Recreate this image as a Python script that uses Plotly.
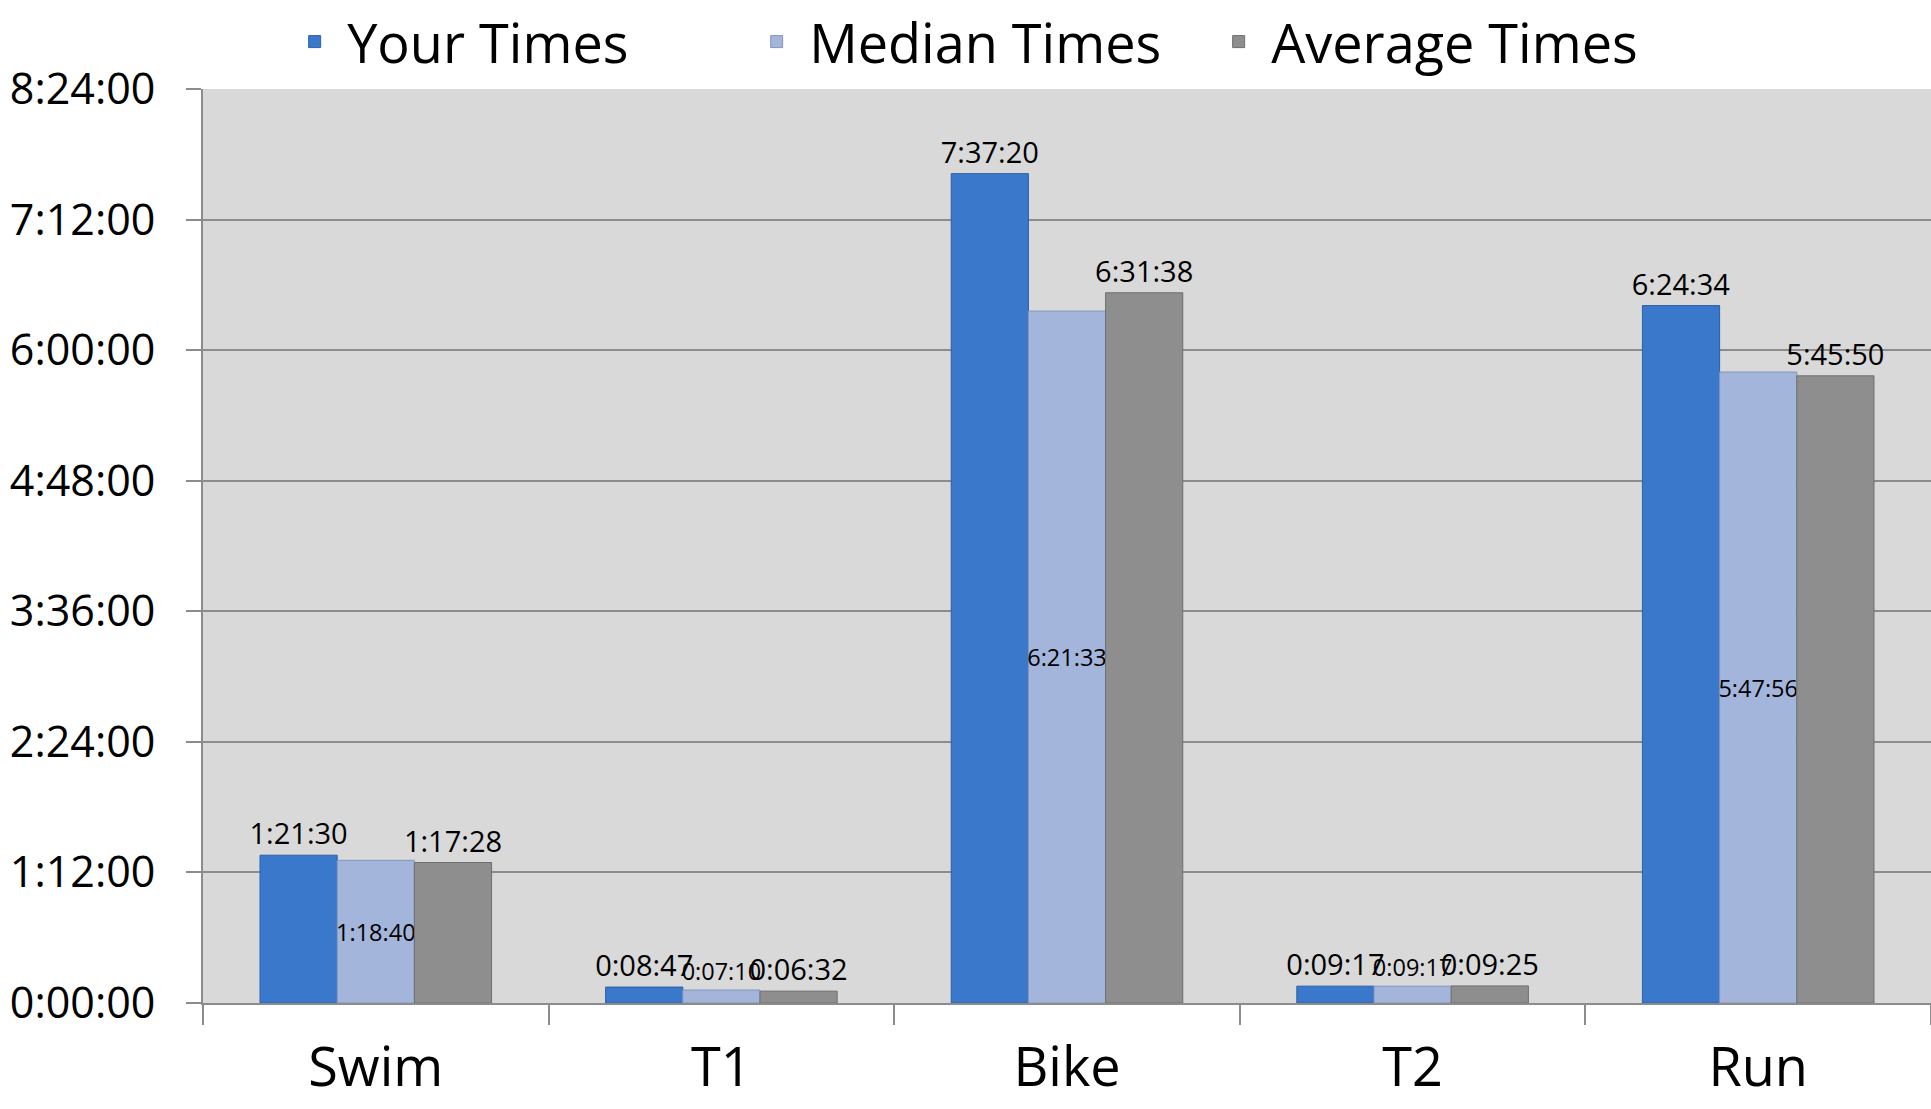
import plotly.graph_objects as go

categories = ["Swim", "T1", "Bike", "T2", "Run"]

your_labels = ["1:21:30", "0:08:47", "7:37:20", "0:09:17", "6:24:34"]
median_labels = ["1:18:40", "0:07:10", "6:21:33", "0:09:17", "5:47:56"]
average_labels = ["1:17:28", "0:06:32", "6:31:38", "0:09:25", "5:45:50"]

tick_labels = ["0:00:00", "1:12:00", "2:24:00", "3:36:00", "4:48:00",
               "6:00:00", "7:12:00", "8:24:00"]

series_names = ["Your Times", "Median Times", "Average Times"]


def to_seconds(s):
    h, m, sec = (int(p) for p in s.split(":"))
    return h * 3600 + m * 60 + sec


your_times = [to_seconds(s) for s in your_labels]
median_times = [to_seconds(s) for s in median_labels]
average_times = [to_seconds(s) for s in average_labels]
tick_values = [to_seconds(s) for s in tick_labels]

FONT = "Open Sans, Lato, DejaVu Sans, sans-serif"

median_pos = ["inside" if v > 3000 else "outside" for v in median_times]

fig = go.Figure()
fig.add_trace(go.Bar(
    name=series_names[0], x=categories, y=your_times, text=your_labels,
    textposition="outside", textangle=0, constraintext="none",
    textfont=dict(family=FONT, size=29, color="#000000"),
    marker=dict(color="#3a78cc", line=dict(color="#2d5fa3", width=1)),
))
fig.add_trace(go.Bar(
    name=series_names[1], x=categories, y=median_times, text=median_labels,
    textposition=median_pos, insidetextanchor="middle", textangle=0,
    constraintext="none",
    textfont=dict(family=FONT, size=23.5, color="#000000"),
    marker=dict(color="#a3b5da", line=dict(color="#8596bb", width=1)),
))
fig.add_trace(go.Bar(
    name=series_names[2], x=categories, y=average_times, text=average_labels,
    textposition="outside", textangle=0, constraintext="none",
    textfont=dict(family=FONT, size=29, color="#000000"),
    marker=dict(color="#8e8e8e", line=dict(color="#6e6e6e", width=1)),
))

fig.update_layout(
    width=1931, height=1109,
    margin=dict(l=203, r=0, t=89, b=106, autoexpand=False),
    paper_bgcolor="#ffffff",
    plot_bgcolor="#d9d9d9",
    barmode="group", bargap=0.33, bargroupgap=0,
    font=dict(family=FONT, color="#000000"),
    legend=dict(
        orientation="h", xref="container", yref="container",
        x=0.505, xanchor="center", y=1.0, yanchor="top",
        font=dict(family=FONT, size=54, color="#000000"),
        bgcolor="rgba(0,0,0,0)", itemwidth=55,
        entrywidth=392, entrywidthmode="pixels",
    ),
)

fig.update_xaxes(
    type="category", showgrid=False, tickson="boundaries",
    ticks="outside", ticklen=20, tickwidth=2, tickcolor="#8c8c8c",
    showline=True, linecolor="#8c8c8c", linewidth=2,
    tickfont=dict(family=FONT, size=54, color="#000000"),
    ticklabelstandoff=16,
)
fig.update_yaxes(
    range=[0, tick_values[-1]], tickvals=tick_values, ticktext=tick_labels,
    showgrid=True, gridcolor="#8c8c8c", gridwidth=2,
    ticks="outside", ticklen=15, tickwidth=2, tickcolor="#8c8c8c",
    showline=True, linecolor="#8c8c8c", linewidth=2,
    tickfont=dict(family=FONT, size=43, color="#000000"),
    ticklabelstandoff=22, zeroline=False,
)

fig.write_html("out.html")
